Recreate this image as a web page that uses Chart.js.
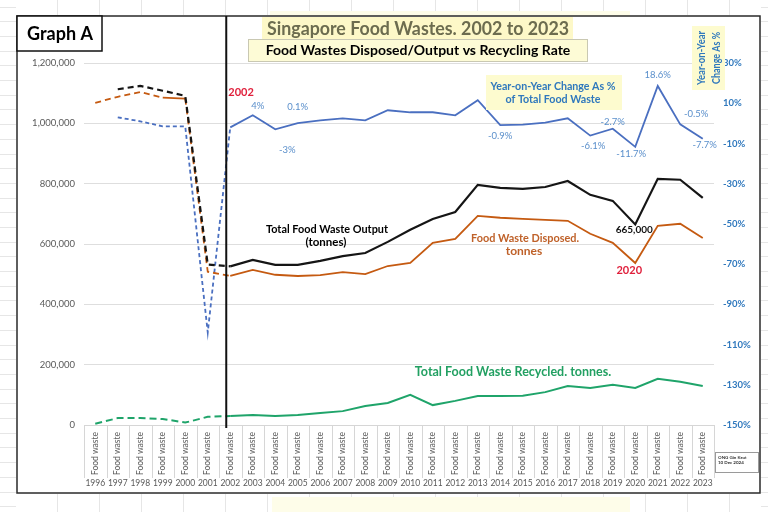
<!DOCTYPE html>
<html>
<head>
<meta charset="utf-8">
<title>Singapore Food Wastes</title>
<script src="https://cdn.jsdelivr.net/npm/chart.js@4.4.1/dist/chart.umd.min.js"></script>
<style>
  html, body { margin: 0; padding: 0; background: #fff; }
  #wrap { position: relative; width: 768px; height: 512px; }
</style>
</head>
<body>
<div id="wrap"><canvas id="foodChart" width="768" height="512"></canvas></div>
<script>
// ---- data ----
const years = ['1996', '1997', '1998', '1999', '2000', '2001', '2002', '2003', '2004', '2005',
  '2006', '2007', '2008', '2009', '2010', '2011', '2012', '2013', '2014', '2015',
  '2016', '2017', '2018', '2019', '2020', '2021', '2022', '2023'];
const categoryLabel = 'Food waste';

// tonnes
const totalOutput = [null, 1113000, 1124000, 1108000, 1091000, 532000, 526000, 547000, 531000, 531000,
  544000, 560000, 570000, 607000, 647000, 683000, 706000, 796000, 786000, 783000,
  789000, 809000, 763000, 743000, 665000, 816000, 813000, 753000];
const disposed = [1068000, 1088000, 1104000, 1085000, 1082000, 508000, 494000, 514000, 498000, 494000,
  497000, 507000, 500000, 527000, 537000, 604000, 617000, 693000, 687000, 683000,
  680000, 677000, 634000, 604000, 537000, 660000, 667000, 620000];
const recycled = [4000, 23000, 23000, 20000, 8000, 27000, 30000, 33000, 30000, 33000,
  40000, 46000, 63000, 73000, 100000, 66000, 80000, 96000, 96000, 97000,
  109000, 129000, 123000, 133000, 123000, 153000, 143000, 129000];
// year-on-year change, % of total food waste
const yoyChange = [null, 3, 1, -1.5, -1.5, -104, -2, 4, -3, 0.1,
  1.5, 2.5, 1.5, 6.5, 5.5, 5.5, 4, 11.5, -0.9, -0.6,
  0.3, 2.5, -6.1, -2.7, -11.7, 18.6, -0.5, -7.7];

const leftTicks = { min: 0, max: 1200000, step: 200000 };
const rightTicks = { min: -150, max: 30, step: 20 };

// value labels on the YoY line (index into years, text, nudge from the point)
const yoyNotes = [
  { i: 7, text: '4%', dx: 5, dy: -9 },
  { i: 9, text: '0.1%', dx: 0, dy: -16 },
  { i: 8, text: '-3%', dx: 12, dy: 21 },
  { i: 18, text: '-0.9%', dx: 0, dy: 11 },
  { i: 22, text: '-6.1%', dx: 3, dy: 10 },
  { i: 23, text: '-2.7%', dx: 0, dy: -7 },
  { i: 24, text: '-11.7%', dx: -4, dy: 7 },
  { i: 25, text: '18.6%', dx: 0, dy: -11 },
  { i: 26, text: '-0.5%', dx: 16, dy: -10 },
  { i: 27, text: '-7.7%', dx: 2, dy: 6 }
];

const FONT = 'Lato, "Open Sans", "DejaVu Sans", sans-serif';
const BLUE_TXT = '#2f78bd';

// dashed until the 2002 split, solid after
const dashedBefore = (lastIdx, dash, solidFrom = []) => ({
  borderDash: c => (c.p1DataIndex <= lastIdx && !solidFrom.includes(c.p0DataIndex)) ? dash : undefined
});

function txt(ctx, s, x, y, o = {}) {
  ctx.save();
  ctx.font = `${o.weight || 'normal'} ${o.size || 10}px ${FONT}`;
  ctx.fillStyle = o.color || '#000';
  ctx.textAlign = o.align || 'center';
  ctx.textBaseline = 'middle';
  if (o.rotate) {
    ctx.translate(x, y);
    ctx.rotate(o.rotate);
    o.maxW ? ctx.fillText(s, 0, 0, o.maxW) : ctx.fillText(s, 0, 0);
  } else {
    o.maxW ? ctx.fillText(s, x, y, o.maxW) : ctx.fillText(s, x, y);
  }
  ctx.restore();
}

function line(ctx, x1, y1, x2, y2) {
  ctx.beginPath(); ctx.moveTo(x1, y1); ctx.lineTo(x2, y2); ctx.stroke();
}

const overlay = {
  id: 'overlay',
  beforeDraw(chart) {
    const { ctx, width, height } = chart;
    ctx.save();
    ctx.fillStyle = '#fff';
    ctx.fillRect(0, 0, width, height);
    // spreadsheet cells around the frame
    ctx.strokeStyle = '#e6e6e6';
    ctx.lineWidth = 1;
    for (let y = 6.5; y < height; y += 14.7) {
      line(ctx, 0, Math.round(y) + 0.5, 16, Math.round(y) + 0.5);
      line(ctx, 761, Math.round(y) + 0.5, width, Math.round(y) + 0.5);
    }
    for (let x = 57; x < width; x += 42) {
      line(ctx, x + 0.5, 0, x + 0.5, 15);
      line(ctx, x + 0.5, 494, x + 0.5, height);
    }
    ctx.fillStyle = '#fefde9';
    ctx.fillRect(270, 11, 360, 5);
    ctx.fillRect(272, 497, 358, 15);
    // frame
    ctx.strokeStyle = '#2a2a2a';
    ctx.lineWidth = 1.5;
    ctx.strokeRect(17, 16, 743, 477);
    // cells under the plot for the category labels
    const xs = chart.scales.x;
    const w = (xs.right - xs.left) / years.length;
    ctx.strokeStyle = '#d6d6d6';
    ctx.lineWidth = 1;
    for (let i = 0; i <= years.length; i++) {
      const x = Math.round(xs.left + i * w) + 0.5;
      line(ctx, x, xs.top, x, xs.top + 53);
    }
    ctx.restore();
  },
  afterDatasetsDraw(chart) {
    const { ctx } = chart;
    const xs = chart.scales.x, ys = chart.scales.y, y1 = chart.scales.y1;
    ctx.save();
    // split line at 2002
    ctx.strokeStyle = '#111';
    ctx.lineWidth = 2;
    const sx = xs.getPixelForValue(6) - 4;
    line(ctx, sx, 16, sx, ys.bottom + 3);

    // titles
    ctx.fillStyle = '#fdf8c8';
    ctx.fillRect(262, 17, 311, 23);
    txt(ctx, 'Singapore Food Wastes. 2002 to 2023', 418, 29, { size: 19, weight: 'bold', color: '#6c6c4f', maxW: 302 });
    ctx.fillStyle = '#fdfbd6';
    ctx.fillRect(248, 39, 339, 22);
    ctx.strokeStyle = '#c9c8b2';
    ctx.lineWidth = 1;
    ctx.strokeRect(248.5, 39.5, 339, 22);
    txt(ctx, 'Food Wastes Disposed/Output vs Recycling Rate', 418, 50.5, { size: 14, weight: 'bold', color: '#000', maxW: 325 });

    // Graph A tag
    ctx.fillStyle = '#fff';
    ctx.fillRect(17, 16, 85, 35);
    ctx.strokeStyle = '#111';
    ctx.lineWidth = 1.5;
    ctx.strokeRect(17, 16, 85, 35);
    txt(ctx, 'Graph A', 27, 34, { size: 18, weight: 'bold', color: '#000', align: 'left', maxW: 66 });

    // YoY caption boxes
    ctx.fillStyle = '#fdfbcf';
    ctx.fillRect(486, 75, 136, 35);
    txt(ctx, 'Year-on-Year Change As %', 553, 86, { size: 11.5, weight: 'bold', color: BLUE_TXT, maxW: 125 });
    txt(ctx, 'of Total Food Waste', 553, 99, { size: 11.5, weight: 'bold', color: BLUE_TXT, maxW: 95 });
    ctx.fillStyle = '#fdfbcf';
    ctx.fillRect(692, 26, 33, 64);
    txt(ctx, 'Year-on-Year', 701, 58, { size: 11, weight: 'bold', color: BLUE_TXT, rotate: -Math.PI / 2, maxW: 54 });
    txt(ctx, 'Change As %', 716, 58, { size: 11, weight: 'bold', color: BLUE_TXT, rotate: -Math.PI / 2, maxW: 52 });

    // series captions
    txt(ctx, 'Total Food Waste Output', 327, 229, { size: 11.5, weight: 'bold', color: '#000', maxW: 122 });
    txt(ctx, '(tonnes)', 326, 242, { size: 11.5, weight: 'bold', color: '#000' });
    txt(ctx, 'Food Waste Disposed.', 525, 238, { size: 12, weight: 'bold', color: '#bf6129', maxW: 108 });
    txt(ctx, 'tonnes', 524, 251, { size: 12, weight: 'bold', color: '#bf6129' });
    txt(ctx, 'Total Food Waste Recycled. tonnes.', 513, 372, { size: 12.5, weight: 'bold', color: '#22a062', maxW: 198 });

    // point notes
    yoyNotes.forEach(n => {
      const px = xs.getPixelForValue(n.i), py = y1.getPixelForValue(yoyChange[n.i]);
      txt(ctx, n.text, px + n.dx, py + n.dy, { size: 9.5, color: '#5a8fcb' });
    });
    const i02 = years.indexOf('2002'), i20 = years.indexOf('2020');
    txt(ctx, '2002', xs.getPixelForValue(i02) - 2, 92, { size: 11, weight: 'bold', color: '#e0203c', align: 'left' });
    txt(ctx, '665,000', xs.getPixelForValue(i20) - 1, ys.getPixelForValue(totalOutput[i20]) + 5, { size: 10, weight: 'bold', color: '#111' });
    txt(ctx, '2020', xs.getPixelForValue(i20) - 6, ys.getPixelForValue(disposed[i20]) + 7, { size: 11, weight: 'bold', color: '#e0203c' });

    // credit box
    ctx.fillStyle = '#fff';
    ctx.fillRect(715, 452, 43, 20);
    ctx.strokeStyle = '#9a9a9a';
    ctx.lineWidth = 1;
    ctx.strokeRect(715.5, 452.5, 43, 20);
    txt(ctx, 'ONG Gin Keat', 718, 458, { size: 4.5, weight: 'bold', color: '#333', align: 'left' });
    txt(ctx, '10 Dec 2024', 718, 463, { size: 4.5, weight: 'bold', color: '#333', align: 'left' });
    ctx.restore();
  }
};

const ctx = document.getElementById('foodChart');
new Chart(ctx, {
  type: 'line',
  data: {
    labels: years,
    datasets: [
      {
        label: 'Total Food Waste Output',
        data: totalOutput,
        yAxisID: 'y',
        borderColor: '#151515',
        borderWidth: 2.2,
        segment: dashedBefore(6, [6, 4])
      },
      {
        label: 'Food Waste Disposed',
        data: disposed,
        yAxisID: 'y',
        borderColor: '#c55a11',
        borderWidth: 1.8,
        segment: dashedBefore(6, [6, 4], [3])
      },
      {
        label: 'Year-on-Year Change As %',
        data: yoyChange,
        yAxisID: 'y1',
        borderColor: '#4a6fc0',
        borderWidth: 1.8,
        segment: dashedBefore(6, [4, 3])
      },
      {
        label: 'Total Food Waste Recycled',
        data: recycled,
        yAxisID: 'y',
        borderColor: '#1fa46a',
        borderWidth: 2,
        segment: dashedBefore(6, [7, 4])
      }
    ]
  },
  options: {
    responsive: false,
    animation: false,
    devicePixelRatio: 1,
    layout: { padding: { left: 18, right: 4, top: 63, bottom: 12 } },
    elements: { point: { radius: 0 }, line: { tension: 0, fill: false } },
    plugins: { legend: { display: false }, tooltip: { enabled: false } },
    scales: {
      x: {
        type: 'category',
        offset: true,
        grid: { display: false, drawTicks: false },
        border: { display: true, color: '#d6d6d6' },
        ticks: {
          autoSkip: false, minRotation: 90, maxRotation: 90, padding: 7,
          color: '#595959', font: { family: FONT, size: 8.5 },
          callback: () => categoryLabel
        },
        afterFit: s => { s.height = 52; }
      },
      x2: {
        type: 'category',
        labels: years,
        position: 'bottom',
        weight: 1,
        offset: true,
        grid: { display: false, drawTicks: false },
        border: { display: false },
        ticks: {
          autoSkip: false, maxRotation: 0, minRotation: 0, padding: 1,
          color: '#595959', font: { family: FONT, size: 8.5 }
        },
        afterFit: s => { s.height = 23; }
      },
      y: {
        position: 'left',
        min: leftTicks.min,
        max: leftTicks.max,
        grid: { color: '#dedede', drawTicks: false },
        border: { display: false },
        ticks: {
          stepSize: leftTicks.step, padding: 9,
          color: '#595959', font: { family: FONT, size: 9.5 },
          callback: v => v.toLocaleString('en-US')
        },
        afterFit: s => { s.width = 66; }
      },
      y1: {
        position: 'right',
        min: rightTicks.min,
        max: rightTicks.max,
        grid: { drawOnChartArea: false, drawTicks: false },
        border: { display: false },
        ticks: {
          stepSize: rightTicks.step, padding: 9,
          color: BLUE_TXT, font: { family: FONT, size: 9.5, weight: 'bold' },
          callback: v => v + '%'
        },
        afterFit: s => { s.width = 50; }
      }
    }
  },
  plugins: [overlay]
});
</script>
</body>
</html>
